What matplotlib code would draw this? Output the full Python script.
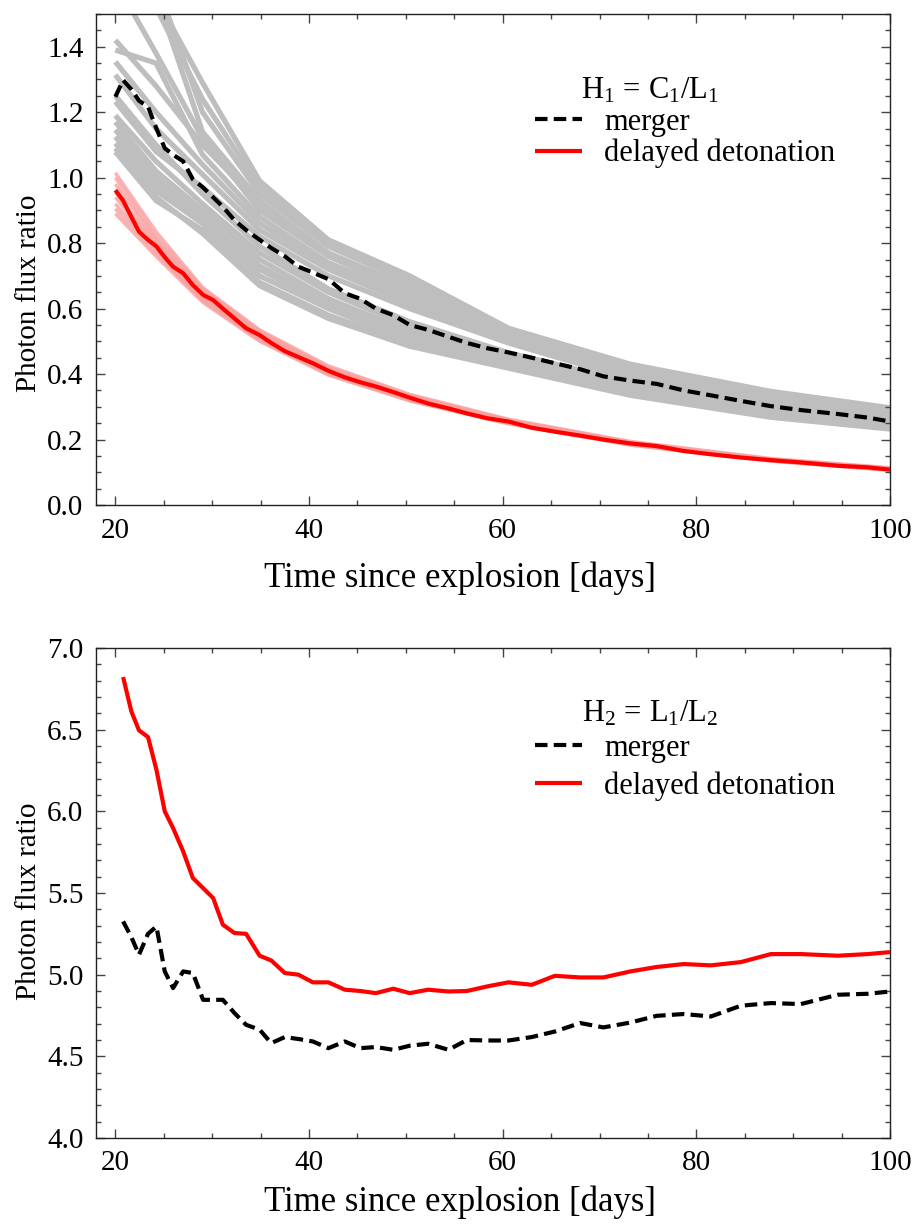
import matplotlib
matplotlib.use("Agg")
import matplotlib.pyplot as plt
from matplotlib.ticker import MultipleLocator, FormatStrFormatter

plt.rcParams['font.family'] = ['Liberation Serif', 'DejaVu Serif']
plt.rcParams['mathtext.fontset'] = 'custom'
plt.rcParams['mathtext.rm'] = 'Liberation Serif'
plt.rcParams['mathtext.it'] = 'Liberation Serif:italic'

FST = 21     # tick labels
FS = 22      # legend text
FSX = 25     # x axis label
FSY = 21     # y axis label

# ---------------- data ----------------
times = [20.0, 20.8, 21.65, 22.44, 23.37, 24.24, 25.1, 25.96, 27.0, 28.0,
         29.06, 30.1, 31.1, 32.3, 33.5, 34.9, 36.1, 37.5, 38.9, 40.4,
         42.0, 43.7, 45.3, 46.9, 48.7, 50.4, 52.3, 54.4, 56.3, 58.4,
         60.6, 63.0, 65.4, 68.0, 70.4, 73.2, 75.9, 78.7, 81.5, 84.6,
         87.7, 90.8, 94.6, 97.7, 100.0]

h1_ddt = [0.962, 0.93, 0.88, 0.835, 0.81, 0.79, 0.757, 0.728, 0.708, 0.672,
          0.642, 0.626, 0.60, 0.57, 0.54, 0.519, 0.495, 0.47, 0.452, 0.433,
          0.41, 0.39, 0.375, 0.362, 0.345, 0.328, 0.31, 0.295, 0.28, 0.265,
          0.255, 0.236, 0.224, 0.212, 0.200, 0.188, 0.18, 0.165, 0.155, 0.145,
          0.137, 0.13, 0.12, 0.115, 0.108]

h1_merger = [1.247, 1.298, 1.27, 1.235, 1.217, 1.15, 1.09, 1.07, 1.05, 0.995,
             0.97, 0.94, 0.911, 0.87, 0.84, 0.81, 0.785, 0.76, 0.728, 0.71,
             0.69, 0.647, 0.63, 0.60, 0.58, 0.55, 0.535, 0.514, 0.495, 0.479,
             0.466, 0.45, 0.433, 0.415, 0.393, 0.38, 0.37, 0.35, 0.335, 0.318,
             0.302, 0.29, 0.278, 0.267, 0.255]

times_h2 = times[1:]
h2_ddt = [6.822, 6.612, 6.496, 6.455, 6.255, 6.0, 5.898, 5.755, 5.592, 5.53,
          5.469, 5.306, 5.255, 5.25, 5.116, 5.087, 5.01, 5.0, 4.953, 4.953,
          4.908, 4.90, 4.887, 4.914, 4.887, 4.908, 4.897, 4.90, 4.928, 4.953,
          4.938, 4.993, 4.983, 4.983, 5.02, 5.047, 5.065, 5.057, 5.077, 5.126,
          5.126, 5.116, 5.126, 5.138]
h2_merger = [5.326, 5.23, 5.122, 5.25, 5.295, 5.02, 4.918, 5.02, 5.01, 4.846,
             4.846, 4.846, 4.765, 4.693, 4.663, 4.581, 4.618, 4.606, 4.591, 4.55,
             4.591, 4.55, 4.557, 4.54, 4.565, 4.577, 4.54, 4.60, 4.597, 4.597,
             4.618, 4.652, 4.704, 4.677, 4.707, 4.748, 4.759, 4.744, 4.81, 4.826,
             4.82, 4.877, 4.883, 4.897]

# individual model lines (coarse time sampling)
times_models = [20, 24.2, 29, 34.9, 42, 50.4, 60.6, 73.2, 87.7, 100]
merger_models = [
    [1.95, 1.55, 1.29, 0.99, 0.81, 0.70, 0.54, 0.43, 0.347, 0.297],
    [1.90, 1.52, 1.24, 0.97, 0.80, 0.69, 0.535, 0.425, 0.343, 0.293],
    [1.85, 1.60, 1.20, 0.95, 0.79, 0.68, 0.53, 0.42, 0.34, 0.29],
    [1.80, 1.56, 1.14, 0.93, 0.77, 0.665, 0.525, 0.415, 0.336, 0.287],
    [1.60, 1.38, 1.12, 0.90, 0.76, 0.655, 0.52, 0.41, 0.332, 0.283],
    [1.42, 1.28, 1.10, 0.92, 0.76, 0.65, 0.515, 0.405, 0.328, 0.28],
    [1.39, 1.35, 1.07, 0.88, 0.74, 0.64, 0.51, 0.40, 0.325, 0.277],
    [1.354, 1.20, 1.04, 0.86, 0.73, 0.625, 0.505, 0.395, 0.32, 0.273],
    [1.314, 1.15, 1.01, 0.84, 0.72, 0.615, 0.50, 0.39, 0.316, 0.27],
    [1.232, 1.08, 0.97, 0.82, 0.70, 0.60, 0.495, 0.385, 0.312, 0.266],
    [1.25, 1.10, 0.95, 0.79, 0.66, 0.56, 0.465, 0.375, 0.303, 0.259],
    [1.19, 1.05, 0.92, 0.77, 0.65, 0.545, 0.455, 0.37, 0.298, 0.255],
    [1.17, 1.02, 0.90, 0.75, 0.63, 0.53, 0.45, 0.365, 0.294, 0.251],
    [1.146, 1.00, 0.88, 0.73, 0.62, 0.52, 0.445, 0.36, 0.29, 0.248],
    [1.125, 0.98, 0.87, 0.72, 0.61, 0.51, 0.44, 0.355, 0.285, 0.244],
    [1.105, 0.96, 0.86, 0.70, 0.60, 0.50, 0.432, 0.35, 0.28, 0.24],
    [1.079, 0.93, 0.84, 0.68, 0.58, 0.49, 0.425, 0.343, 0.275, 0.236],
    [1.09, 0.94, 0.83, 0.67, 0.57, 0.485, 0.418, 0.335, 0.268, 0.232],
]
ddt_models = [
    [1.015, 0.835, 0.665, 0.535, 0.425, 0.338, 0.262, 0.194, 0.142, 0.114],
    [1.0, 0.82, 0.66, 0.53, 0.42, 0.335, 0.26, 0.192, 0.14, 0.112],
    [0.98, 0.81, 0.652, 0.526, 0.416, 0.332, 0.258, 0.19, 0.139, 0.111],
    [0.955, 0.80, 0.645, 0.52, 0.412, 0.329, 0.256, 0.189, 0.138, 0.11],
    [0.94, 0.79, 0.638, 0.515, 0.408, 0.326, 0.254, 0.187, 0.137, 0.109],
    [0.92, 0.78, 0.632, 0.51, 0.404, 0.323, 0.252, 0.186, 0.136, 0.108],
    [0.905, 0.77, 0.625, 0.505, 0.40, 0.32, 0.25, 0.184, 0.135, 0.107],
    [0.89, 0.76, 0.62, 0.50, 0.397, 0.318, 0.248, 0.183, 0.134, 0.106],
]

xlabel = "Time since explosion [days]"
ylabel = "Photon flux ratio"
title1 = r"$\mathrm{H_1\, =\, C_1/L_1}$"
title2 = r"$\mathrm{H_2\, =\, L_1/L_2}$"

# ---------------- figure ----------------
fig = plt.figure(figsize=(9.15, 12.26), dpi=100)
ax1 = fig.add_axes([96/915, 1-505/1226, 794/915, 491/1226])
ax2 = fig.add_axes([96/915, 1-1138/1226, 794/915, 490/1226])

GREY = '#bebebe'
PINK = '#f9a0a0'
DASH = (3.0, 1.5)

for m in merger_models:
    ax1.plot(times_models, m, color=GREY, lw=3.8, solid_capstyle='butt', zorder=1)
for m in ddt_models:
    ax1.plot(times_models, m, color=PINK, lw=2.5, alpha=0.8, solid_capstyle='butt', zorder=2)
ax1.plot(times, h1_ddt, color='red', lw=3.0, solid_capstyle='butt', zorder=3,
         label='delayed detonation')
ax1.plot(times, h1_merger, color='black', lw=3.0, dashes=DASH, zorder=4, label='merger')

ax2.plot(times_h2, h2_ddt, color='red', lw=3.0, solid_capstyle='butt', zorder=3,
         label='delayed detonation')
ax2.plot(times_h2, h2_merger, color='black', lw=3.0, dashes=DASH, zorder=4, label='merger')

def style(ax, ylim, ymaj, ymin, fmt, xlab_y, ylab_y):
    ax.set_xlim(18, 100)
    ax.set_ylim(*ylim)
    ax.xaxis.set_major_locator(MultipleLocator(20))
    ax.xaxis.set_minor_locator(MultipleLocator(5))
    ax.yaxis.set_major_locator(MultipleLocator(ymaj))
    ax.yaxis.set_minor_locator(MultipleLocator(ymin))
    ax.yaxis.set_major_formatter(FormatStrFormatter(fmt))
    ax.tick_params(which='both', direction='in', top=True, right=True,
                   labelsize=FST, color='#444444', width=1.0)
    ax.tick_params(which='major', length=6.5, pad=9)
    ax.tick_params(which='minor', length=3.5)
    for sp in ax.spines.values():
        sp.set_linewidth(1.0)
        sp.set_color('#222222')
    ax.set_xlabel(xlabel, fontsize=FSX)
    ax.xaxis.set_label_coords(0.458, xlab_y)
    ax.set_ylabel(ylabel, fontsize=FSY)
    ax.yaxis.set_label_coords(-0.068, ylab_y)

style(ax1, (0, 1.5), 0.2, 0.05, '%.1f', -0.116, 0.432)
style(ax2, (4.0, 7.0), 0.5, 0.1, '%.1f', -0.096, 0.484)

def legend(ax, title, y_title, y_leg, spacing):
    ax.text(0.6975, y_title, title, transform=ax.transAxes, fontsize=FS,
            ha='center', va='center')
    h, l = ax.get_legend_handles_labels()
    order = [l.index('merger'), l.index('delayed detonation')]
    ax.legend([h[i] for i in order], [l[i] for i in order],
              loc='upper left', bbox_to_anchor=(0.553, y_leg),
              frameon=False, fontsize=FS, handlelength=1.55, handletextpad=0.72,
              borderpad=0, borderaxespad=0, labelspacing=spacing)

legend(ax1, title1, (505-91)/491, (505-108)/491, 0.06)
legend(ax2, title2, (1138-714)/490, (1138-734)/490, 0.28)

fig.savefig('out.png', dpi=100)
